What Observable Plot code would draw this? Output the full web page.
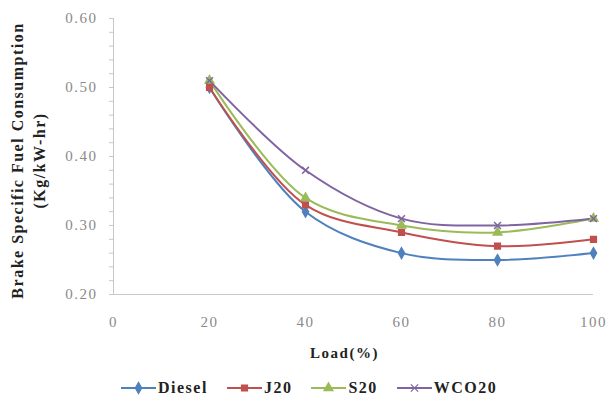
<!DOCTYPE html>
<html><head><meta charset="utf-8">
<script src="https://cdn.jsdelivr.net/npm/d3@7"></script>
<script src="https://cdn.jsdelivr.net/npm/@observablehq/plot@0.6"></script>
<style>
body{margin:0;background:#fff;}
#wrap{position:relative;width:609px;height:409px;overflow:hidden;}
#legend{position:absolute;left:120px;top:379px;display:flex;align-items:center;font-family:"Liberation Serif",serif;font-weight:bold;font-size:16px;letter-spacing:1.5px;color:#222;}
.item{display:flex;align-items:center;margin-right:18px;}
.item svg{margin-right:1px;}
</style>
</head><body><div id="wrap"></div>
<script>
const loads = [20, 40, 60, 80, 100];
const seriesNames = ["Diesel", "J20", "S20", "WCO20"];
const diesel = [0.50, 0.32, 0.26, 0.25, 0.26];
const j20 = [0.50, 0.33, 0.29, 0.27, 0.28];
const s20 = [0.51, 0.34, 0.30, 0.29, 0.31];
const wco20 = [0.51, 0.38, 0.31, 0.30, 0.31];
const colors = ["#4F81BD", "#C0504D", "#9BBB59", "#8064A2"];
const symbols = ["diamond", "square", "triangle", "times"];
const xTicks = [0, 20, 40, 60, 80, 100];
const yTicks = [0.2, 0.3, 0.4, 0.5, 0.6];
const yMinorTicks = [0.2,0.22,0.24,0.26,0.28,0.3,0.32,0.34,0.36,0.38,0.4,0.42,0.44,0.46,0.48,0.5,0.52,0.54,0.56,0.58,0.6];
const xLabel = "Load(%)";
const yLabel = "Brake Specific Fuel Consumption\n(Kg/kW-hr)";

const valuesBySeries = [diesel, j20, s20, wco20];
const data = [];
seriesNames.forEach((s, i) => loads.forEach((l, j) => data.push({series: s, load: l, bsfc: valuesBySeries[i][j]})));

const chart = Plot.plot({
  width: 609, height: 365,
  marginLeft: 113, marginRight: 16, marginTop: 18, marginBottom: 71,
  style: {fontFamily: "'Liberation Serif', serif", background: "#fff", letterSpacing: "1.5px"},
  x: {domain: [0, 100]},
  y: {domain: [0.2, 0.6]},
  color: {domain: seriesNames, range: colors},
  symbol: {domain: seriesNames, range: symbols},
  marks: [
    Plot.axisY(yMinorTicks, {tickSize: 4, tickFormat: () => "", stroke: "#c8c8c8", label: null}),
    Plot.axisY(yTicks, {tickSize: 0, tickPadding: 16, tickFormat: d3.format(".2f"), fontSize: 15, fill: "#8a8a8a", label: null}),
    Plot.axisX(xTicks, {tickSize: 0, tickPadding: 22, fontSize: 15, fill: "#8a8a8a", label: null}),
    Plot.ruleX([0], {stroke: "#c8c8c8"}),
    Plot.ruleY([0.2], {stroke: "#c8c8c8"}),
    Plot.text([yLabel], {frameAnchor: "left", textAnchor: "middle", rotate: -90, dx: -87, dy: 4, fontSize: 16, fontWeight: "bold", lineHeight: 1.375, fill: "#222"}),
    Plot.text([xLabel], {frameAnchor: "bottom", dy: 63, dx: -9, fontSize: 15, fontWeight: "bold", fill: "#222"}),
    Plot.line(data, {x: "load", y: "bsfc", z: "series", stroke: "series", curve: "catmull-rom", strokeWidth: 2}),
    Plot.dot(data, {x: "load", y: "bsfc", symbol: "series", fill: "series", stroke: "series", r: 3.2})
  ]
});
const wrap = document.getElementById("wrap");
wrap.appendChild(chart);

const legend = document.createElement("div");
legend.id = "legend";
const symMap = {diamond: d3.symbolDiamond, square: d3.symbolSquare, triangle: d3.symbolTriangle, times: d3.symbolTimes};
seriesNames.forEach((s, i) => {
  const item = document.createElement("div");
  item.className = "item";
  const path = d3.symbol(symMap[symbols[i]], 36)();
  const isStroke = symbols[i] === "times";
  item.innerHTML = `<svg width="37" height="14"><line x1="1" x2="36" y1="7" y2="7" stroke="${colors[i]}" stroke-width="2"/><path transform="translate(18.5,7)" d="${path}" fill="${isStroke ? "none" : colors[i]}" stroke="${colors[i]}" stroke-width="1.2"/></svg><span>${s}</span>`;
  legend.appendChild(item);
});
wrap.appendChild(legend);
</script>
</body></html>
